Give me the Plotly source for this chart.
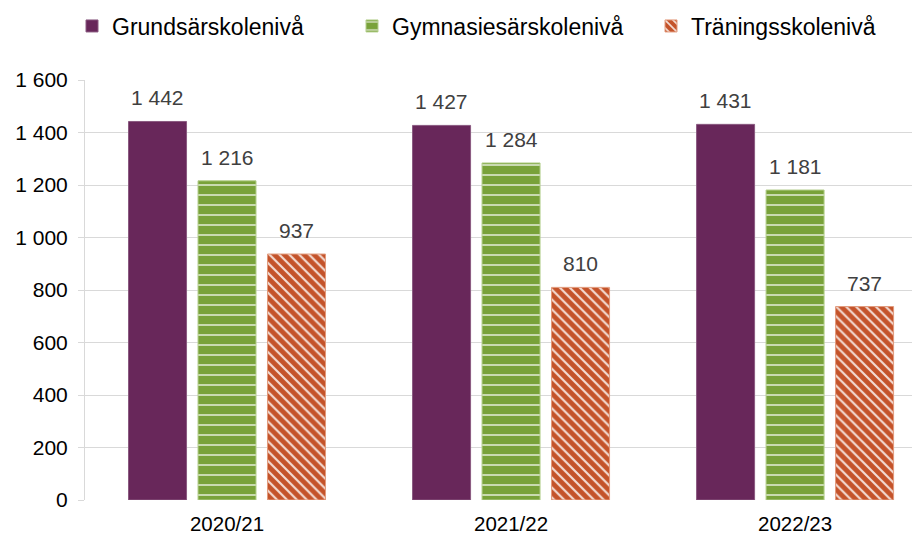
import plotly.graph_objects as go

categories = ["2020/21", "2021/22", "2022/23"]
series_names = ["Grundsärskolenivå", "Gymnasiesärskolenivå", "Träningsskolenivå"]
grund = [1442, 1427, 1431]
gymn = [1216, 1284, 1181]
tran = [937, 810, 737]
y_ticks = [0, 200, 400, 600, 800, 1000, 1200, 1400, 1600]

values = [grund, gymn, tran]
colors = ["#68275A", "#79A23A", "#C4532A"]
line_colors = ["#8a5a80", "#b5cf8e", "#e29a7c"]
patterns = [
    dict(shape=""),
    dict(shape="-", fgcolor="white", bgcolor="#79A23A", size=10, solidity=0.16, fgopacity=0.75),
    dict(shape="\\", fgcolor="white", bgcolor="#C4532A", size=7, solidity=0.3, fgopacity=0.8),
]

W, H = 920, 536
L, R, T, B = 77, 0, 72, 44
bargap = 0.266
bargroupgap = 0.165

def fmt(v):
    return f"{v:,}".replace(",", " ")

fig = go.Figure()
legend_ids = ["legend", "legend2", "legend3"]
for k in range(3):
    fig.add_trace(go.Bar(
        x=categories, y=values[k], name=series_names[k],
        marker=dict(color=colors[k], pattern=patterns[k],
                    line=dict(color=line_colors[k], width=1)),
        legend=legend_ids[k], showlegend=True,
    ))

slot = (1 - bargap) / 3
annotations = []
for k in range(3):
    for i, v in enumerate(values[k]):
        annotations.append(dict(
            x=i + (k - 1) * slot, y=v, xref="x", yref="y",
            text=fmt(v), showarrow=False, yanchor="bottom", yshift=10,
            font=dict(family="Liberation Sans, Arial", size=21, color="#404040"),
        ))

legend_x = [64, 344, 643]
legend_common = dict(
    orientation="h", xref="container", yref="container",
    yanchor="middle", y=1 - 18 / H, xanchor="left",
    font=dict(family="Liberation Sans, Arial", size=23, color="#000000"),
    bgcolor="rgba(0,0,0,0)", borderwidth=0,
)

fig.update_layout(
    width=W, height=H,
    margin=dict(l=L, r=R, t=T, b=B),
    paper_bgcolor="white", plot_bgcolor="white",
    barmode="group", bargap=bargap, bargroupgap=bargroupgap,
    separators=", ", showlegend=True,
    font=dict(family="Liberation Sans, Arial", size=20, color="#000000"),
    annotations=annotations,
    legend=dict(x=legend_x[0] / W, **legend_common),
    legend2=dict(x=legend_x[1] / W, **legend_common),
    legend3=dict(x=legend_x[2] / W, **legend_common),
    xaxis=dict(
        type="category", range=[-0.5, 2.468], showgrid=False,
        showline=False, ticks="", zeroline=False,
        tickfont=dict(size=20.5, color="#000000"),
        ticklabelstandoff=9,
    ),
    yaxis=dict(
        range=[0, 1600], tickvals=y_ticks,
        ticktext=[fmt(v) for v in y_ticks],
        showgrid=True, gridcolor="#d9d9d9", gridwidth=1,
        showline=True, linecolor="#d9d9d9", linewidth=1,
        ticks="outside", ticklen=6, tickcolor="#d9d9d9",
        zeroline=False, ticklabelstandoff=6,
        tickfont=dict(size=21, color="#000000"),
    ),
)

fig.write_html("out.html")
